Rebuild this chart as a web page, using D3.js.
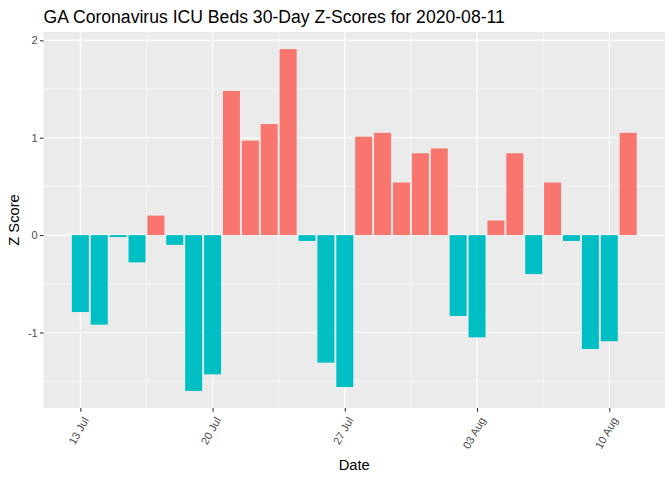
<!DOCTYPE html>
<html>
<head>
<meta charset="utf-8">
<script src="https://cdn.jsdelivr.net/npm/d3@7"></script>
<style>
  body { margin: 0; background: #ffffff; }
  svg { font-family: "Liberation Sans", Arial, sans-serif; }
</style>
</head>
<body>
<svg class="chart"></svg>
<script>
// DATA
var dates = ["2020-07-13","2020-07-14","2020-07-15","2020-07-16","2020-07-17","2020-07-18","2020-07-19",
             "2020-07-20","2020-07-21","2020-07-22","2020-07-23","2020-07-24","2020-07-25","2020-07-26",
             "2020-07-27","2020-07-28","2020-07-29","2020-07-30","2020-07-31","2020-08-01","2020-08-02",
             "2020-08-03","2020-08-04","2020-08-05","2020-08-06","2020-08-07","2020-08-08","2020-08-09",
             "2020-08-10","2020-08-11"];
var zScores = [-0.79,-0.92,-0.02,-0.28,0.20,-0.10,-1.60,
               -1.43,1.48,0.97,1.14,1.91,-0.06,-1.31,
               -1.56,1.01,1.05,0.54,0.84,0.89,-0.83,
               -1.05,0.15,0.84,-0.40,0.54,-0.06,-1.17,
               -1.09,1.05];
var xTicks = ["2020-07-13","2020-07-20","2020-07-27","2020-08-03","2020-08-10"];
var yTicks = [-1, 0, 1, 2];
var titleText = "GA Coronavirus ICU Beds 30-Day Z-Scores for 2020-08-11";
var xTitle = "Date";
var yTitle = "Z Score";

var W = 672, H = 480;
var margin = {top: 32, right: 7.1, bottom: 72, left: 43.6};
var width = W - margin.left - margin.right;
var height = H - margin.top - margin.bottom;

var parse = d3.utcParse("%Y-%m-%d");
var DAY = 864e5;
var data = dates.map(function(d, i) { return {date: parse(d), z: zScores[i]}; });

var svg = d3.select(".chart").attr("width", W).attr("height", H);
var g = svg.append("g").attr("transform", "translate(" + margin.left + "," + margin.top + ")");

// X SCALE: bar width 0.9 day, 5% expansion like ggplot
var xMin = d3.min(data, function(d) { return +d.date; }) - 0.45 * DAY;
var xMax = d3.max(data, function(d) { return +d.date; }) + 0.45 * DAY;
var xPad = (xMax - xMin) * 0.05;
var x = d3.scaleUtc().domain([xMin - xPad, xMax + xPad]).range([0, width]);

var yMin = Math.min(0, d3.min(zScores)), yMax = Math.max(0, d3.max(zScores));
var yPad = (yMax - yMin) * 0.05;
var y = d3.scaleLinear().domain([yMin - yPad, yMax + yPad]).range([height, 0]);

// PANEL BACKGROUND
g.append("rect").attr("width", width).attr("height", height).attr("fill", "#EBEBEB");

// GRID
var xMajor = xTicks.map(parse);
var xMinor = [];
for (var i = 0; i < xMajor.length - 1; i++) xMinor.push(new Date((+xMajor[i] + +xMajor[i + 1]) / 2));
var yMinor = [];
for (var j = 0; j < yTicks.length - 1; j++) yMinor.push((yTicks[j] + yTicks[j + 1]) / 2);
yMinor.unshift(yTicks[0] - 0.5);

g.selectAll(".ygrid-minor").data(yMinor).enter().append("line")
    .attr("x1", 0).attr("x2", width)
    .attr("y1", function(d) { return y(d); }).attr("y2", function(d) { return y(d); })
    .attr("stroke", "#fff").attr("stroke-width", 0.53);
g.selectAll(".xgrid-minor").data(xMinor).enter().append("line")
    .attr("y1", 0).attr("y2", height)
    .attr("x1", function(d) { return x(d); }).attr("x2", function(d) { return x(d); })
    .attr("stroke", "#fff").attr("stroke-width", 0.53);
g.selectAll(".ygrid").data(yTicks).enter().append("line")
    .attr("x1", 0).attr("x2", width)
    .attr("y1", function(d) { return y(d); }).attr("y2", function(d) { return y(d); })
    .attr("stroke", "#fff").attr("stroke-width", 1.07);
g.selectAll(".xgrid").data(xMajor).enter().append("line")
    .attr("y1", 0).attr("y2", height)
    .attr("x1", function(d) { return x(d); }).attr("x2", function(d) { return x(d); })
    .attr("stroke", "#fff").attr("stroke-width", 1.07);

// BARS
g.selectAll(".bar").data(data).enter().append("rect")
    .attr("class", "bar")
    .attr("x", function(d) { return x(+d.date - 0.45 * DAY); })
    .attr("width", function(d) { return x(+d.date + 0.45 * DAY) - x(+d.date - 0.45 * DAY); })
    .attr("y", function(d) { return y(Math.max(0, d.z)); })
    .attr("height", function(d) { return Math.abs(y(d.z) - y(0)); })
    .attr("fill", function(d) { return d.z > 0 ? "#F8766D" : "#00BFC4"; });

// AXES
var yAxis = d3.axisLeft(y).tickValues(yTicks).tickSize(3.67).tickPadding(2.2).tickFormat(d3.format("d"));
var yG = g.append("g").call(yAxis);
yG.select(".domain").remove();
yG.selectAll("line").attr("stroke", "#333333").attr("stroke-width", 1.07);
yG.selectAll("text").attr("fill", "#4D4D4D").style("font-size", "11px")
    .text(function(d) { return d < 0 ? "-" + Math.abs(d) : d; });

var xAxis = d3.axisBottom(x).tickValues(xMajor).tickSize(3.67).tickFormat(d3.utcFormat("%d %b"));
var xG = g.append("g").attr("transform", "translate(0," + height + ")").call(xAxis);
xG.select(".domain").remove();
xG.selectAll("line").attr("stroke", "#333333").attr("stroke-width", 1.07);
xG.selectAll("text")
    .attr("fill", "#4D4D4D").style("font-size", "11px")
    .attr("text-anchor", "end")
    .attr("dy", null)
    .attr("y", 0)
    .attr("transform", "translate(8.5,12) rotate(-60)");

// TITLES
svg.append("text")
    .attr("x", margin.left).attr("y", 23)
    .attr("fill", "#000").style("font-size", "17.6px")
    .text(titleText);

svg.append("text")
    .attr("x", margin.left + width / 2).attr("y", 470)
    .attr("text-anchor", "middle")
    .attr("fill", "#000").style("font-size", "14.7px")
    .text(xTitle);

svg.append("text")
    .attr("transform", "translate(19," + (margin.top + height / 2) + ") rotate(-90)")
    .attr("text-anchor", "middle")
    .attr("fill", "#000").style("font-size", "14.7px")
    .text(yTitle);
</script>
</body>
</html>
